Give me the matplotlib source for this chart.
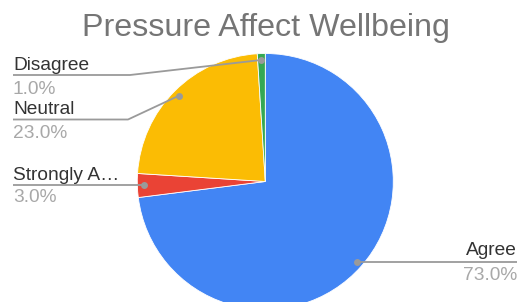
import matplotlib
matplotlib.use("Agg")
import matplotlib.pyplot as plt
import numpy as np

title = "Pressure Affect Wellbeing"
categories = ["Agree", "Strongly Agree", "Neutral", "Disagree"]
display_labels = ["Agree", "Strongly A\u2026", "Neutral", "Disagree"]
values = [73.0, 3.0, 23.0, 1.0]
colors = ["#4285F4", "#EA4335", "#FBBC04", "#34A853"]

W, H = 519, 302
plt.rcParams['font.family'] = ['Liberation Sans', 'DejaVu Sans']
fig = plt.figure(figsize=(W / 100, H / 100), dpi=100)
ax = fig.add_axes([0, 0, 1, 1])

cx, cy, R = 265.3, H - 181.5, 128.0
ax.pie(values, colors=colors, startangle=90, counterclock=False,
       center=(cx, cy), radius=R,
       wedgeprops=dict(linewidth=0.6, edgecolor='white'))
ax.set_xlim(0, W)
ax.set_ylim(0, H)
ax.set_aspect('auto')
ax.axis('off')

ax.text(265.5, H - 36, title, ha='center', va='baseline', fontsize=23.2, color='#757575')

# dot positions at 0.95 R from slice mid-angle
total = sum(values)
cum = np.cumsum(values)
r_dot = 0.95 * R
dots = {}
for cat, v, c in zip(categories, values, cum):
    theta = np.deg2rad(360.0 * (c - v / 2) / total)
    dots[cat] = (cx + r_dot * np.sin(theta), cy + r_dot * np.cos(theta))

# layout: side, name baseline, pct baseline, line y, elbow x (image px, y down)
layout = {
    "Disagree": ("left", 69.5, 93.5, 75.0, 130.0),
    "Neutral": ("left", 113.5, 138.0, 119.5, 128.0),
    "Strongly Agree": ("left", 180.0, 202.5, None, None),
    "Agree": ("right", 255.0, 280.0, None, None),
}
line_col = '#9a9a9a'
fs = 13.8
for cat, lab, v in zip(categories, display_labels, values):
    side, yn, yp, yl, ex = layout[cat]
    dx, dy = dots[cat]
    if yl is None:
        ly = dy
        if side == 'left':
            xs, ys = [13, dx], [ly, ly]
        else:
            xs, ys = [dx, 517], [ly, ly]
    else:
        ly = H - yl
        xs, ys = [13, ex, dx], [ly, ly, dy]
    ax.plot(xs, ys, color=line_col, lw=1.3, solid_capstyle='butt', zorder=5)
    ax.plot([dx], [dy], 'o', color=line_col, ms=5, mec='none', zorder=6)
    tx = 13 if side == 'left' else 517
    ha = 'left' if side == 'left' else 'right'
    ax.text(tx, H - yn, lab, ha=ha, va='baseline', fontsize=fs, color='#333333')
    ax.text(tx, H - yp, f"{v:.1f}%", ha=ha, va='baseline', fontsize=fs, color='#a8a8a8')

fig.savefig("out.png", dpi=100)
